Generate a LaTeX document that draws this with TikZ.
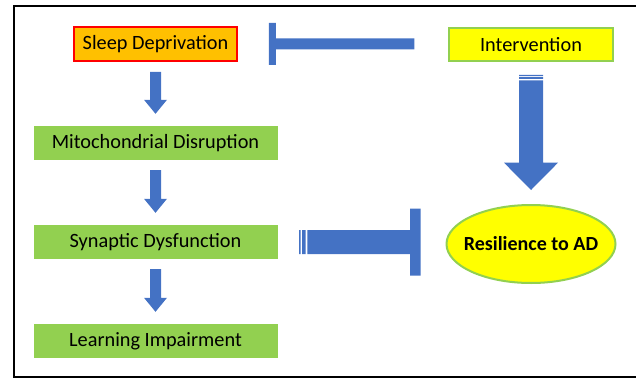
\documentclass[tikz,border=0pt]{standalone}
\usepackage{fontspec}
\setmainfont{Carlito}
\usetikzlibrary{calc,shapes.geometric}
\definecolor{arrowblue}{HTML}{4472C4}
\definecolor{boxgreen}{HTML}{92D050}
\definecolor{boxorange}{HTML}{FFC000}
\definecolor{boxred}{HTML}{FF0000}
\definecolor{boxyellow}{HTML}{FFFF00}
\tikzset{
  txt/.style={font=\fontsize{20.3}{23}\selectfont, text=black, inner sep=0pt},
  greenbox/.style={txt, fill=boxgreen, minimum width=244pt, minimum height=34pt},
  blk/.style={fill=arrowblue, draw=none},
}
% block arrow downward between two nodes
\newcommand\blkdown[2]{%
  \fill[blk] let \p1=(#1.south), \p2=(#2.north) in
    (\x1-5.5pt,\y1-10pt) -- (\x1+5.5pt,\y1-10pt) -- (\x1+5.5pt,\y2+26pt) --
    (\x1+11.5pt,\y2+26pt) -- (\x1,\y2+12pt) -- (\x1-11.5pt,\y2+26pt) --
    (\x1-5.5pt,\y2+26pt) -- cycle;}
\begin{document}
\begin{tikzpicture}[x=1pt,y=1pt]
\useasboundingbox (0,0) rectangle (636,378);
\begin{scope}
\clip (0,0) rectangle (636,378);
\draw[line width=2pt, black] (13.5,1.5) rectangle (660,372.3);
\end{scope}

\node[txt, fill=boxorange, draw=boxred, line width=1.8pt, minimum width=163pt, minimum height=34pt] (sleep) at (155.5,334) {Sleep Deprivation};
\node[txt, fill=boxyellow, draw=boxgreen, line width=2pt, minimum width=164pt, minimum height=33pt] (interv) at (531,333.7) {Intervention};
\node[greenbox] (mito) at (155.5,235) {Mitochondrial Disruption};
\node[greenbox] (syn) at (155.5,136) {Synaptic Dysfunction};
\node[greenbox] (learn) at (155.5,37) {Learning Impairment};
\node[ellipse, fill=boxyellow, draw=boxgreen, line width=2pt, minimum width=169pt, minimum height=78pt, inner xsep=-8pt, inner ysep=0pt, font=\fontsize{20}{23}\selectfont\bfseries] (res) at (531,134) {Resilience to AD};

% down arrows on the left
\blkdown{sleep}{mito}
\blkdown{mito}{syn}
\blkdown{syn}{learn}

% top blocker: Intervention -| Sleep Deprivation
\fill[blk] let \p1=(sleep.east), \p2=(interv.west) in
  (\x1+31pt,\y1-21pt) rectangle (\x1+38pt,\y1+21pt)
  (\x1+38pt,\y1-5.5pt) rectangle (\x2-33.7pt,\y1+5.5pt);

% big arrow Intervention -> Resilience
\fill[blk] let \p1=(interv.south), \p2=(res.north) in
  (\x1-12pt,\y1-13pt) rectangle (\x1+12pt,\y1-14.3pt)
  (\x1-12pt,\y1-15.3pt) rectangle (\x1+12pt,\y1-17pt)
  (\x1-12pt,\y1-18.5pt) -- (\x1+12pt,\y1-18.5pt) -- (\x1+12pt,\y2+41.3pt) --
  (\x1+27pt,\y2+41.3pt) -- (\x1,\y2+14pt) -- (\x1-27pt,\y2+41.3pt) --
  (\x1-12pt,\y2+41.3pt) -- cycle;

% middle blocker: Synaptic Dysfunction -| Resilience
\fill[blk] let \p1=(syn.east), \p2=(res.west) in
  (\x1+21.3pt,\y1-12pt) rectangle (\x1+23pt,\y1+12pt)
  (\x1+24.3pt,\y1-12pt) rectangle (\x1+28pt,\y1+12pt)
  (\x1+29.6pt,\y1-12pt) rectangle (\x2-35pt,\y1+12pt)
  (\x2-35.3pt,\y1-33.5pt) rectangle (\x2-25pt,\y1+33.5pt);
\end{tikzpicture}
\end{document}
